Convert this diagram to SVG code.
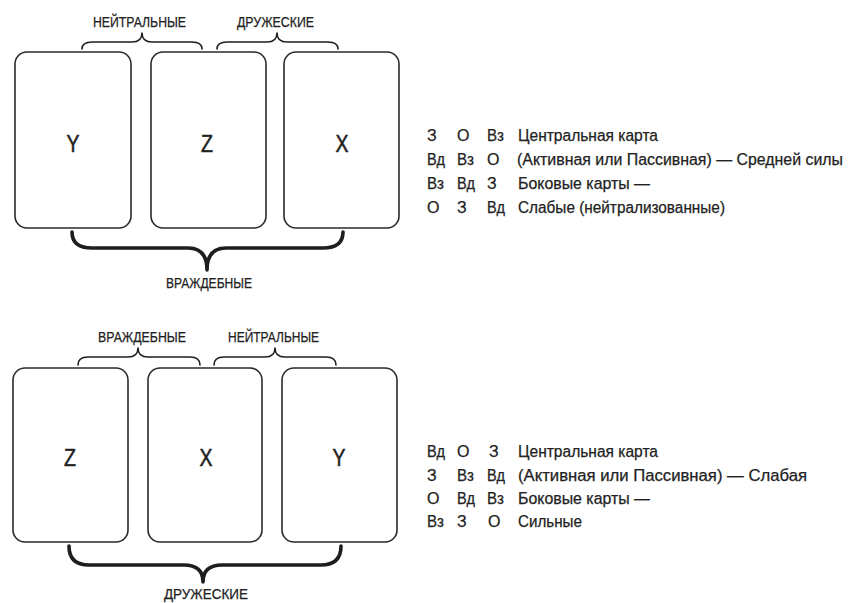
<svg xmlns="http://www.w3.org/2000/svg" width="850" height="603" viewBox="0 0 850 603">
<style>
.card{fill:#fff;stroke:#2a2a2a;stroke-width:1.6}
.brace{fill:none;stroke:#1e1e1e;stroke-width:1.6;stroke-linejoin:round;stroke-linecap:round}
.big{fill:none;stroke:#1e1e1e;stroke-width:3.6;stroke-linejoin:round;stroke-linecap:round}
.lab{font-family:"Liberation Sans Narrow","Liberation Sans",Arial,sans-serif;font-size:14px;fill:#222;stroke:#222;stroke-width:0.25}
.let{font-family:"Liberation Sans Narrow","Liberation Sans",Arial,sans-serif;font-size:23px;fill:#222;stroke:#222;stroke-width:0.5;text-anchor:middle}
.t{font-family:"Liberation Sans Narrow","Liberation Sans",Arial,sans-serif;font-size:16px;fill:#222;stroke:#222;stroke-width:0.25}
</style>
<rect width="850" height="603" fill="#fff"/>
<g id="top-cards">
<g id="card-top-y"><rect class="card" x="15" y="52" width="116" height="176" rx="12"/><text class="let" x="73" y="152" textLength="13" lengthAdjust="spacingAndGlyphs">Y</text></g>
<g id="card-top-z"><rect class="card" x="151" y="52" width="115" height="176" rx="12"/><text class="let" x="207" y="152" textLength="12" lengthAdjust="spacingAndGlyphs">Z</text></g>
<g id="card-top-x"><rect class="card" x="284" y="52" width="115" height="176" rx="12"/><text class="let" x="342" y="152" textLength="13" lengthAdjust="spacingAndGlyphs">X</text></g>
</g>
<g id="bottom-cards">
<g id="card-bot-z"><rect class="card" x="13" y="368" width="115" height="174" rx="12"/><text class="let" x="70" y="466" textLength="12" lengthAdjust="spacingAndGlyphs">Z</text></g>
<g id="card-bot-x"><rect class="card" x="148" y="368" width="114" height="174" rx="12"/><text class="let" x="206" y="466" textLength="13" lengthAdjust="spacingAndGlyphs">X</text></g>
<g id="card-bot-y"><rect class="card" x="282" y="368" width="115" height="174" rx="12"/><text class="let" x="339" y="466" textLength="13" lengthAdjust="spacingAndGlyphs">Y</text></g>
</g>
<g id="connectors">
<path class="brace" d="M82,49 Q82,42 92,42 L132,42 Q142,42 142,33 Q142,42 152,42 L192,42 Q202,42 202,49"/>
<path class="brace" d="M217,49 Q217,42 227,42 L267,42 Q277,42 277,33 Q277,42 287,42 L328,42 Q338,42 338,49"/>
<path class="big" d="M72,232 Q72,248 92,248 L188,248 Q207,248 207,270 Q207,248 226,248 L323,248 Q343,248 343,232"/>
<path class="brace" d="M78,365 Q78,357 88,357 L128,357 Q138,357 138,348 Q138,357 148,357 L190,357 Q200,357 200,365"/>
<path class="brace" d="M214,365 Q214,357 224,357 L265,357 Q275,357 275,348 Q275,357 285,357 L326,357 Q336,357 336,365"/>
<path class="big" d="M69,546 Q69,565 89,565 L184,565 Q203,565 203,582 Q203,565 222,565 L321,565 Q341,565 341,546"/>
</g>
<g id="brace-labels">
<text class="lab" x="93" y="27" textLength="93" lengthAdjust="spacingAndGlyphs">НЕЙТРАЛЬНЫЕ</text>
<text class="lab" x="237" y="27" textLength="77" lengthAdjust="spacingAndGlyphs">ДРУЖЕСКИЕ</text>
<text class="lab" x="166" y="288" textLength="86" lengthAdjust="spacingAndGlyphs">ВРАЖДЕБНЫЕ</text>
<text class="lab" x="98" y="342" textLength="88" lengthAdjust="spacingAndGlyphs">ВРАЖДЕБНЫЕ</text>
<text class="lab" x="228" y="342" textLength="91" lengthAdjust="spacingAndGlyphs">НЕЙТРАЛЬНЫЕ</text>
<text class="lab" x="164" y="599" textLength="84" lengthAdjust="spacingAndGlyphs">ДРУЖЕСКИЕ</text>
</g>
<g id="legend-top">
<text class="t" x="427" y="141">З</text><text class="t" x="457" y="141">О</text><text class="t" x="487" y="141" textLength="17" lengthAdjust="spacingAndGlyphs">Вз</text><text class="t" x="518" y="141" textLength="140" lengthAdjust="spacingAndGlyphs">Центральная карта</text>
<text class="t" x="427" y="165" textLength="18" lengthAdjust="spacingAndGlyphs">Вд</text><text class="t" x="457" y="165" textLength="17" lengthAdjust="spacingAndGlyphs">Вз</text><text class="t" x="487" y="165">О</text><text class="t" x="517" y="165" textLength="326" lengthAdjust="spacingAndGlyphs">(Активная или Пассивная) — Средней силы</text>
<text class="t" x="427" y="189" textLength="17" lengthAdjust="spacingAndGlyphs">Вз</text><text class="t" x="457" y="189" textLength="18" lengthAdjust="spacingAndGlyphs">Вд</text><text class="t" x="487" y="189">З</text><text class="t" x="518" y="189" textLength="132" lengthAdjust="spacingAndGlyphs">Боковые карты —</text>
<text class="t" x="427" y="213">О</text><text class="t" x="457" y="213">З</text><text class="t" x="487" y="213" textLength="18" lengthAdjust="spacingAndGlyphs">Вд</text><text class="t" x="518" y="213" textLength="207" lengthAdjust="spacingAndGlyphs">Слабые (нейтрализованные)</text>
</g>
<g id="legend-bottom">
<text class="t" x="427" y="457" textLength="18" lengthAdjust="spacingAndGlyphs">Вд</text><text class="t" x="457" y="457">О</text><text class="t" x="489" y="457">З</text><text class="t" x="518" y="457" textLength="140" lengthAdjust="spacingAndGlyphs">Центральная карта</text>
<text class="t" x="427" y="481">З</text><text class="t" x="457" y="481" textLength="17" lengthAdjust="spacingAndGlyphs">Вз</text><text class="t" x="487" y="481" textLength="18" lengthAdjust="spacingAndGlyphs">Вд</text><text class="t" x="518" y="481" textLength="289" lengthAdjust="spacingAndGlyphs">(Активная или Пассивная) — Слабая</text>
<text class="t" x="427" y="504">О</text><text class="t" x="457" y="504" textLength="18" lengthAdjust="spacingAndGlyphs">Вд</text><text class="t" x="487" y="504" textLength="17" lengthAdjust="spacingAndGlyphs">Вз</text><text class="t" x="518" y="504" textLength="132" lengthAdjust="spacingAndGlyphs">Боковые карты —</text>
<text class="t" x="427" y="527" textLength="17" lengthAdjust="spacingAndGlyphs">Вз</text><text class="t" x="457" y="527">З</text><text class="t" x="488" y="527">О</text><text class="t" x="518" y="527" textLength="64" lengthAdjust="spacingAndGlyphs">Сильные</text>
</g>
</svg>
